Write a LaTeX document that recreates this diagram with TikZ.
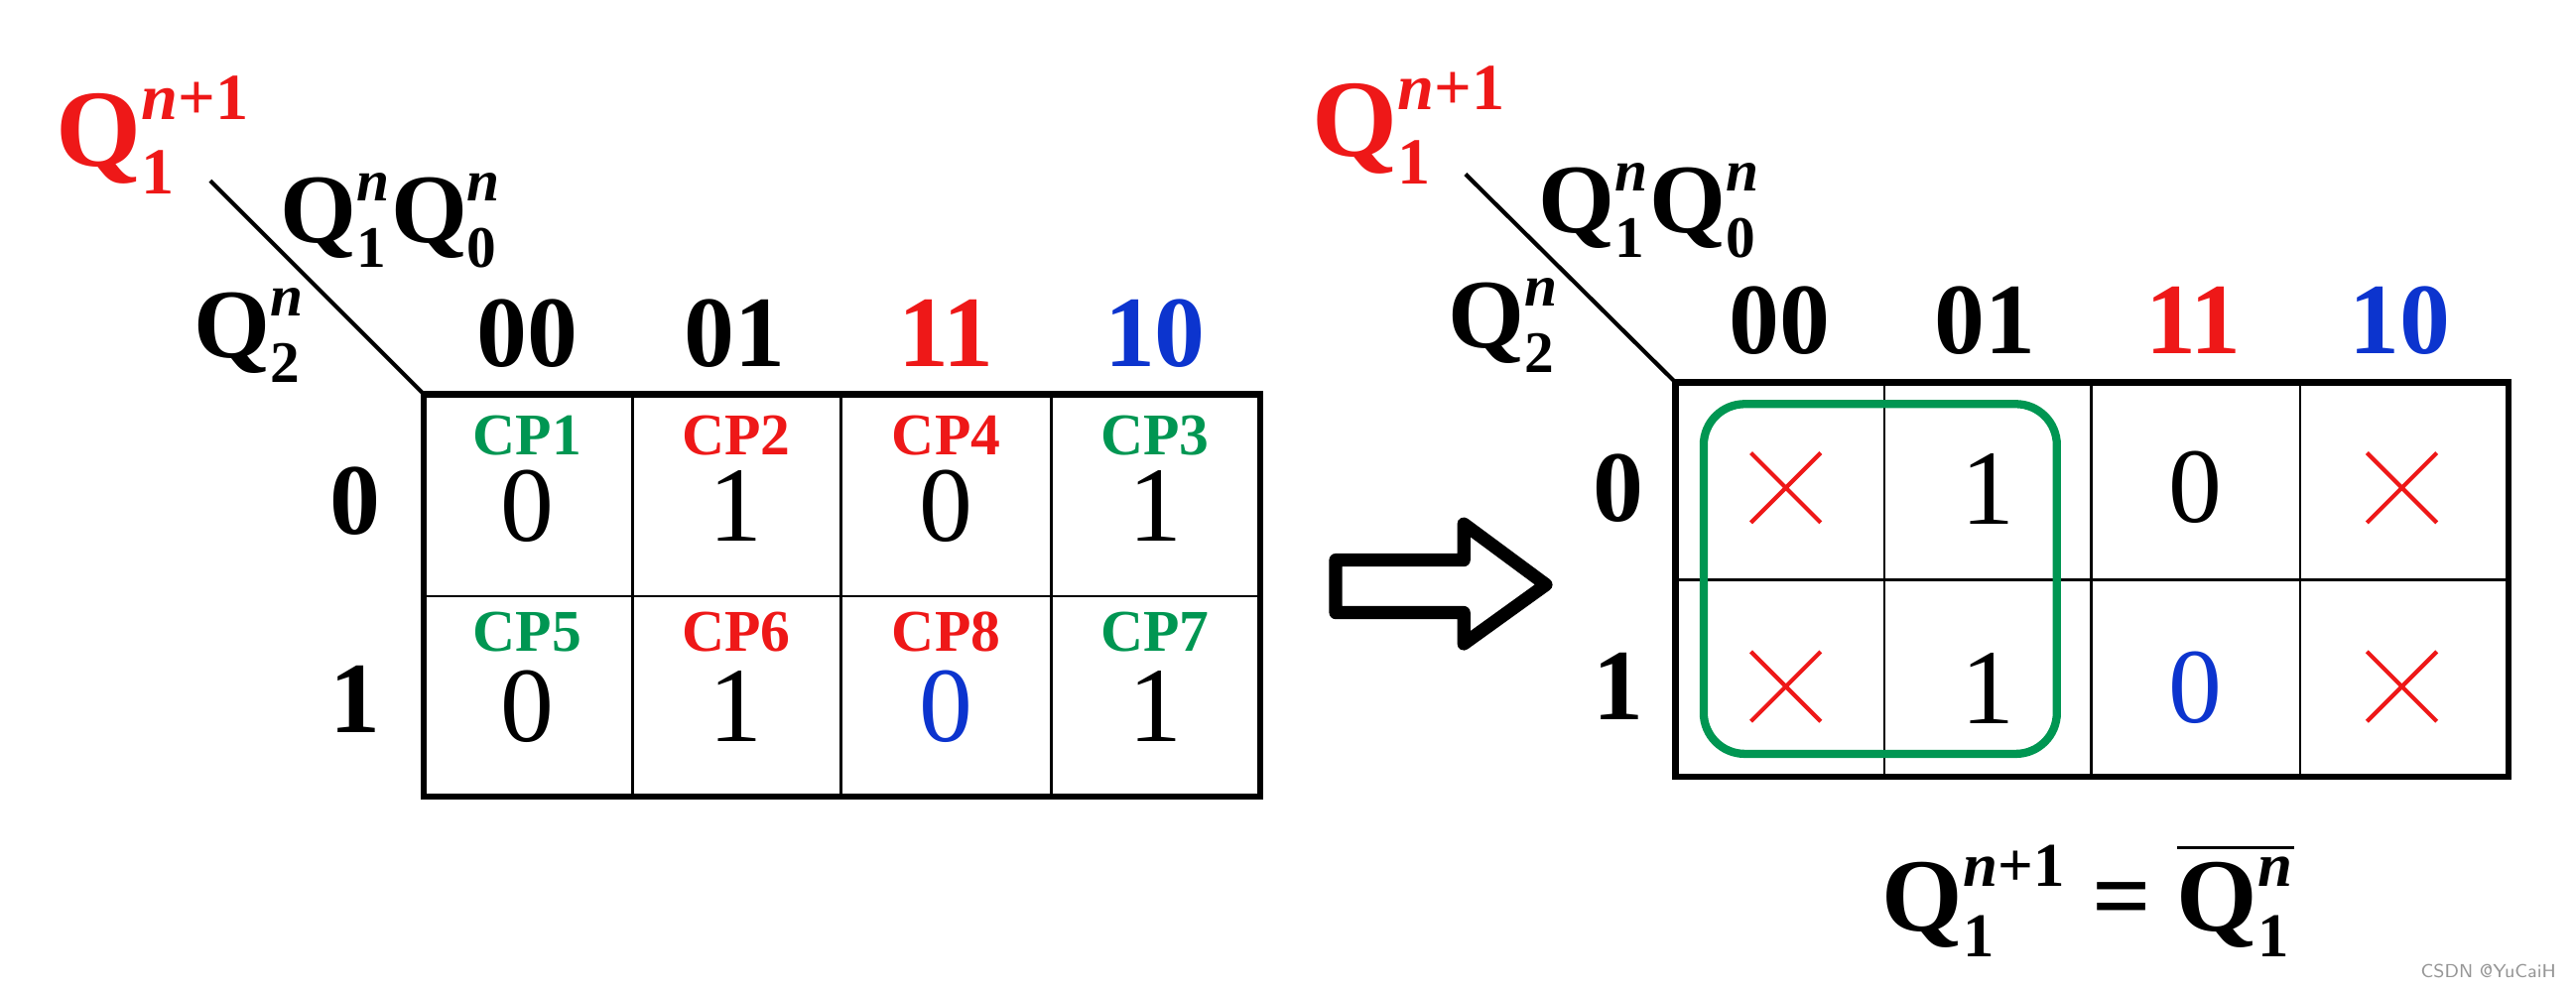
\documentclass[tikz,border=0pt]{standalone}
\usepackage{fix-cm}
\usepackage{amsmath}
\usepackage{fontspec}
\setmainfont{Liberation Serif}
\usetikzlibrary{positioning,shapes.misc}
\DeclareMathSizes{34}{34}{20.4}{14}
\DeclareMathSizes{36}{36}{21.6}{15}
\DeclareMathSizes{38}{38}{22.8}{16}
\definecolor{kmapRed}{RGB}{238,24,24}
\definecolor{kmapGreen}{RGB}{0,150,82}
\definecolor{kmapBlue}{RGB}{12,52,206}
\definecolor{markGray}{RGB}{150,150,150}
\newcommand{\qvar}[2]{\ensuremath{\hbox{Q}^{\text{#2}}_{\text{#1}}}}
\tikzset{
  var label/.style={inner sep=0pt,font=\fontsize{34}{36}\selectfont\bfseries},
  next label/.style={inner sep=0pt,text=kmapRed,font=\fontsize{38}{40}\selectfont\bfseries},
  col label/.style={inner sep=0pt,font=\fontsize{35}{37}\selectfont\bfseries},
  cp label/.style={inner sep=0pt,font=\fontsize{20.5}{22}\selectfont\bfseries},
  cell bit/.style={inner sep=0pt,font=\fontsize{37}{39}\selectfont},
  map frame/.style={line width=0.08cm},
  map grid/.style={line width=0.03cm},
  map diag/.style={line width=0.05cm},
  dont care/.style={cross out,draw=kmapRed,line width=0.05cm,minimum size=0.8cm,inner sep=0pt},
  loop group/.style={draw=kmapGreen,line width=0.1cm,rounded corners=0.5cm},
  block arrow/.style={draw=black,line width=0.16cm,line join=round,fill=white}
}
\begin{document}
\begin{tikzpicture}[x=0.02cm,y=-0.02cm]
        \useasboundingbox (0,0) rectangle (1568,604);
        % left map: state table of the clock pulses
        \node[next label] (nextL) at (93,82) {\qvar{1}{{\itshape n}+1}};
        \node[var label] (colvarL) at (238,134) {\qvar{1}{\itshape n}\qvar{0}{\itshape n}};
        \node[var label] (rowvarL) at (152,204) {\qvar{2}{\itshape n}};
        \coordinate (diagL) at (128,110);
        \coordinate (cornerL) at (258,240);
        \draw[map diag] (diagL) -- (cornerL);
        \node[col label] (c00L) at (321,203) {00};
        \node[col label] (c01L) at (447,203) {01};
        \node[col label,text=kmapRed] (c11L) at (576,203) {11};
        \node[col label,text=kmapBlue] (c10L) at (703,203) {10};
        \node[col label] (r0L) at (216,305) {0};
        \node[col label] (r1L) at (216,426) {1};
        \draw[map grid] (385,240) -- (385,485) (512,240) -- (512,485) (640,240) -- (640,485) (258,363) -- (767,363);
        \draw[map frame] (cornerL) rectangle (767,485);
        \node[cp label,text=kmapGreen] (cp1) at (321,265) {CP1};
        \node[cp label,text=kmapRed] (cp2) at (448,265) {CP2};
        \node[cp label,text=kmapRed] (cp4) at (576,265) {CP4};
        \node[cp label,text=kmapGreen] (cp3) at (703,265) {CP3};
        \node[cp label,text=kmapGreen] (cp5) at (321,385) {CP5};
        \node[cp label,text=kmapRed] (cp6) at (448,385) {CP6};
        \node[cp label,text=kmapRed] (cp8) at (576,385) {CP8};
        \node[cp label,text=kmapGreen] (cp7) at (703,385) {CP7};
        \node[cell bit] (bit1) at (321,308) {0};
        \node[cell bit] (bit2) at (448,308) {1};
        \node[cell bit] (bit4) at (576,308) {0};
        \node[cell bit] (bit3) at (703,308) {1};
        \node[cell bit] (bit5) at (321,430) {0};
        \node[cell bit] (bit6) at (448,430) {1};
        \node[cell bit,text=kmapBlue] (bit8) at (576,430) {0};
        \node[cell bit] (bit7) at (703,430) {1};
        % hollow arrow between the maps
        \draw[block arrow] (813,341) -- (891,341) -- (891,319) -- (941,356) -- (891,392) -- (891,373) -- (813,373) -- cycle;
        % right map: Karnaugh map of Q1
        \node[next label] (nextR) at (858,76) {\qvar{1}{{\itshape n}+1}};
        \node[var label] (colvarR) at (1004,128) {\qvar{1}{\itshape n}\qvar{0}{\itshape n}};
        \node[var label] (rowvarR) at (915,198) {\qvar{2}{\itshape n}};
        \coordinate (diagR) at (892,106);
        \coordinate (cornerR) at (1020,233);
        \draw[map diag] (diagR) -- (cornerR);
        \node[col label] (c00R) at (1083,195) {00};
        \node[col label] (c01R) at (1208,195) {01};
        \node[col label,text=kmapRed] (c11R) at (1335,195) {11};
        \node[col label,text=kmapBlue] (c10R) at (1461,195) {10};
        \node[col label] (r0R) at (985,297) {0};
        \node[col label] (r1R) at (985,418) {1};
        \draw[map grid] (1147,233) -- (1147,473) (1273,233) -- (1273,473) (1400,233) -- (1400,473) (1020,353) -- (1527,353);
        \draw[map frame] (cornerR) rectangle (1527,473);
        \node[dont care] (m0) at (1087,297) {};
        \node[cell bit] (m1) at (1210,298) {1};
        \node[cell bit] (m3) at (1336,297) {0};
        \node[dont care] (m2) at (1462,297) {};
        \node[dont care] (m4) at (1087,418) {};
        \node[cell bit] (m5) at (1210,419) {1};
        \node[cell bit,text=kmapBlue] (m7) at (1336,419) {0};
        \node[dont care] (m6) at (1462,418) {};
        \draw[loop group] (1037,246) rectangle (1252,459);
        \node[var label,font=\fontsize{36}{38}\selectfont\bfseries] (result) at (1271,548) {\qvar{1}{{\itshape n}+1} = $\overline{\qvar{1}{\itshape n}}$};
        \node[anchor=east,font=\fontsize{6.5}{7}\selectfont\sffamily,text=markGray] (mark) at (1562,591) {CSDN @YuCaiH};
      \end{tikzpicture}
\end{document}
